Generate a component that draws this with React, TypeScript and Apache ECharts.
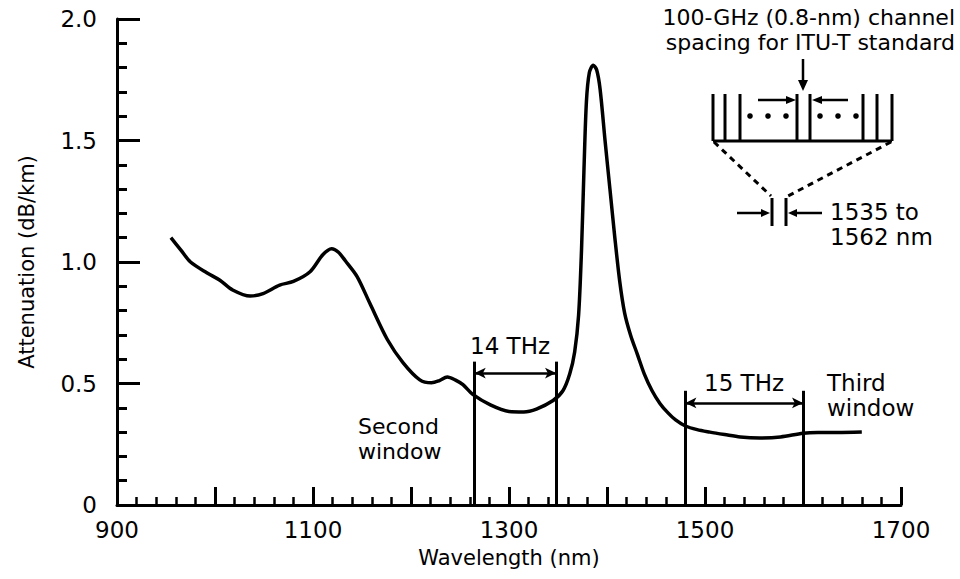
import React, { useEffect, useRef } from "react";
import * as echarts from "echarts";

// Fibre attenuation curve
const wavelengthNm = [955, 965, 975, 992, 1005, 1018, 1036, 1049, 1066, 1080, 1097, 1110, 1119, 1126, 1133, 1145, 1158, 1176, 1192, 1209, 1221, 1229, 1237, 1245, 1253, 1263, 1281, 1300, 1315, 1328, 1345, 1355, 1362, 1367, 1371, 1374, 1376.5, 1379, 1382, 1386, 1389.5, 1393, 1398, 1403, 1408, 1413, 1418, 1424, 1431, 1438, 1446, 1454, 1462, 1470, 1480, 1492, 1505, 1520, 1536, 1556, 1577, 1600, 1615, 1635, 1660];
const attenuationDbKm = [1.10, 1.05, 1.00, 0.955, 0.925, 0.885, 0.86, 0.87, 0.905, 0.92, 0.96, 1.03, 1.055, 1.04, 1.005, 0.94, 0.83, 0.68, 0.585, 0.515, 0.503, 0.512, 0.527, 0.515, 0.495, 0.455, 0.412, 0.385, 0.383, 0.395, 0.43, 0.47, 0.54, 0.63, 0.78, 1.05, 1.38, 1.66, 1.78, 1.81, 1.79, 1.71, 1.50, 1.30, 1.10, 0.92, 0.79, 0.70, 0.62, 0.54, 0.47, 0.418, 0.38, 0.35, 0.325, 0.31, 0.30, 0.29, 0.28, 0.276, 0.28, 0.295, 0.298, 0.298, 0.30];

// Transmission windows: [left edge, right edge] in nm, line top, arrow level
const secondWindow = [1265, 1348];
const secondWindowTop = 0.59;
const secondWindowArrow = 0.543;
const thirdWindow = [1480, 1600];
const thirdWindowTop = 0.47;
const thirdWindowArrow = 0.42;

// Axis ticks
const xTicks = [900, 1000, 1100, 1200, 1300, 1400, 1500, 1600, 1700];
const yTickLabels = ["0", "0.5", "1.0", "1.5", "2.0"];

const FONT = "DejaVu Sans";

export default function App() {
  const ref = useRef<HTMLDivElement>(null);
  useEffect(() => {
    if (!ref.current) return;
    const chart = echarts.init(ref.current, null, { renderer: "svg" });
    const black = "#000";
    const curve = wavelengthNm.map((w, i) => [w, attenuationDbKm[i]]);
    const vline = (x: number, top: number) => [{ coord: [x, 0] }, { coord: [x, top] }];
    const arrow = (a: number, b: number, y: number) => [
      { coord: [a, y], symbol: "arrow" },
      { coord: [b, y], symbol: "arrow" },
    ];
    const txt = (text: string, x: number, y: number, align = "center", size = 23) => ({
      type: "text",
      x,
      y,
      style: {
        text,
        fill: black,
        font: `${size}px "${FONT}"`,
        textAlign: align,
        textVerticalAlign: "middle",
      },
      silent: true,
    });
    const ln = (x1: number, y1: number, x2: number, y2: number, w = 3, dash?: number[]) => ({
      type: "line",
      shape: { x1, y1, x2, y2 },
      style: { stroke: black, lineWidth: w, lineDash: dash },
      silent: true,
    });
    const tri = (pts: number[][]) => ({
      type: "polygon",
      shape: { points: pts },
      style: { fill: black },
      silent: true,
    });
    const dot = (cx: number, cy: number) => ({
      type: "circle",
      shape: { cx, cy, r: 2.8 },
      style: { fill: black },
      silent: true,
    });
    const boxLines = [713, 725, 740, 797, 810, 863, 877, 892];
    const boxDots = [750, 768, 786, 820, 838, 856];

    chart.setOption({
      animation: false,
      backgroundColor: "#fff",
      grid: { left: 117, right: 59, top: 19, bottom: 74, containLabel: false },
      xAxis: {
        type: "value",
        min: xTicks[0],
        max: xTicks[xTicks.length - 1],
        interval: 100,
        name: "Wavelength (nm)",
        nameLocation: "middle",
        nameGap: 42,
        nameTextStyle: { fontFamily: FONT, fontSize: 21, color: black },
        axisLine: { show: true, onZero: false, lineStyle: { color: black, width: 3 } },
        axisTick: { show: true, inside: true, length: 18, lineStyle: { color: black, width: 3 } },
        minorTick: { show: true, splitNumber: 5, length: 8, lineStyle: { color: black, width: 2.5 } },
        axisLabel: {
          margin: 13,
          fontFamily: FONT,
          fontSize: 23,
          color: black,
          formatter: (v: number) => (xTicks.indexOf(v) % 2 === 0 ? String(v) : ""),
        },
        splitLine: { show: false },
      },
      yAxis: {
        type: "value",
        min: 0,
        max: 2,
        interval: 0.5,
        name: "Attenuation (dB/km)",
        nameLocation: "middle",
        nameGap: 80,
        nameTextStyle: { fontFamily: FONT, fontSize: 21, color: black },
        axisLine: { show: true, lineStyle: { color: black, width: 3 } },
        axisTick: { show: true, inside: true, length: 23, lineStyle: { color: black, width: 3 } },
        minorTick: { show: true, splitNumber: 5, length: 10, lineStyle: { color: black, width: 3 } },
        axisLabel: {
          margin: 20,
          fontFamily: FONT,
          fontSize: 23,
          color: black,
          formatter: (v: number) => yTickLabels[Math.round(v / 0.5)] ?? "",
        },
        splitLine: { show: false },
      },
      series: [
        {
          type: "line",
          data: curve,
          smooth: 0.3,
          showSymbol: false,
          lineStyle: { color: black, width: 3.5 },
          z: 3,
        },
        {
          type: "line",
          data: [],
          markLine: {
            silent: true,
            symbol: ["none", "none"],
            label: { show: false },
            lineStyle: { color: black, width: 3, type: "solid" },
            data: [
              vline(secondWindow[0], secondWindowTop),
              vline(secondWindow[1], secondWindowTop),
              vline(thirdWindow[0], thirdWindowTop),
              vline(thirdWindow[1], thirdWindowTop),
            ],
          },
        },
        {
          type: "line",
          data: [],
          markLine: {
            silent: true,
            symbol: ["arrow", "arrow"],
            symbolSize: [8, 11],
            label: { show: false },
            lineStyle: { color: black, width: 2.5, type: "solid" },
            data: [
              arrow(secondWindow[0], secondWindow[1], secondWindowArrow),
              arrow(thirdWindow[0], thirdWindow[1], thirdWindowArrow),
            ],
          },
        },
      ],
      graphic: [
        txt("14 THz", 510, 346),
        txt("15 THz", 744, 383),
        txt("Third", 827, 383, "left"),
        txt("window", 827, 408, "left"),
        txt("Second", 358, 426, "left", 22),
        txt("window", 358, 451, "left", 22),
        txt("100-GHz (0.8-nm) channel", 955, 17, "right", 22),
        txt("spacing for ITU-T standard", 955, 42, "right", 22),
        txt("1535 to", 830, 212, "left", 23),
        txt("1562 nm", 830, 237, "left", 23),
        // inset channel box
        ...boxLines.map((x) => ln(x, 94, x, 141, 3)),
        ln(713, 141, 892, 141, 3),
        ...boxDots.map((x) => dot(x, 116)),
        // down arrow
        ln(803, 59, 803, 81, 2.5),
        tri([[798, 80], [808, 80], [803, 91]]),
        // spacing arrows
        ln(758, 100, 789, 100, 2.5),
        tri([[786, 96], [786, 104], [796, 100]]),
        ln(819, 100, 848, 100, 2.5),
        tri([[822, 96], [822, 104], [812, 100]]),
        // dashed zoom lines
        ln(714, 142, 771, 196, 3, [6, 5]),
        ln(891, 142, 788, 196, 3, [6, 5]),
        // small band
        ln(772, 198, 772, 226, 3),
        ln(786, 198, 786, 226, 3),
        ln(737, 213, 764, 213, 2.5),
        tri([[761, 209], [761, 217], [770, 213]]),
        ln(795, 213, 822, 213, 2.5),
        tri([[797, 209], [797, 217], [788, 213]]),
      ],
    });
    return () => chart.dispose();
  }, []);
  return <div ref={ref} style={{ width: 960, height: 579, position: "absolute", left: 0, top: 0 }} />;
}
